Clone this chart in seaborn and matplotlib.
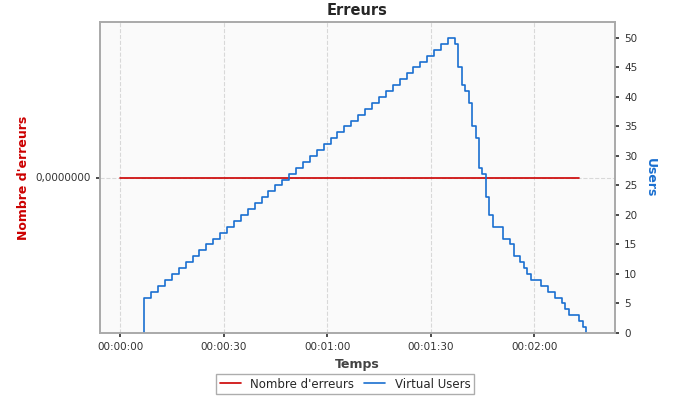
import matplotlib as mpl
mpl.use("Agg")
import matplotlib.pyplot as plt
import seaborn as sns
import pandas as pd

# elapsed seconds / virtual users (step changes)
USER_TIMES = [7, 7, 9, 11, 13, 15, 17, 19, 21, 23, 25, 27, 29, 31, 33, 35, 37, 39,
              41, 43, 45, 47, 49, 51, 53, 55, 57, 59, 61, 63, 65, 67, 69, 71, 73,
              75, 77, 79, 81, 83, 85, 87, 89, 91, 93, 95,
              97, 98, 99, 100, 101, 102, 103, 104, 105, 106, 107, 108, 111, 113,
              114, 116, 117, 118, 119, 122, 124, 126, 128, 129, 130, 133, 134, 135]
USER_VALUES = [0, 6, 7, 8, 9, 10, 11, 12, 13, 14, 15, 16, 17, 18, 19, 20, 21, 22,
               23, 24, 25, 26, 27, 28, 29, 30, 31, 32, 33, 34, 35, 36, 37, 38, 39,
               40, 41, 42, 43, 44, 45, 46, 47, 48, 49, 50,
               49, 45, 42, 41, 39, 35, 33, 28, 27, 23, 20, 18, 16, 15,
               13, 12, 11, 10, 9, 8, 7, 6, 5, 4, 3, 2, 1, 0]
ERROR_TIMES = [0, 133]
ERROR_VALUES = [0, 0]
TICK_SECONDS = [0, 30, 60, 90, 120]
TICK_LABELS = ["00:00:00", "00:00:30", "00:01:00", "00:01:30", "00:02:00"]

sns.set_theme(style="white")
plt.rcParams['font.family'] = ['DejaVu Sans']

fig = plt.figure(figsize=(6.9, 4.0), dpi=100)
ax = fig.add_axes([100 / 690, 1 - 333 / 400, 515 / 690, 311 / 400])
ax2 = ax.twinx()

err = pd.DataFrame({"t": ERROR_TIMES, "v": ERROR_VALUES})
users = pd.DataFrame({"t": USER_TIMES, "v": USER_VALUES})

sns.lineplot(data=err, x="t", y="v", ax=ax, color="#cc0000", lw=1.2,
             label="Nombre d'erreurs", legend=False)
sns.lineplot(data=users, x="t", y="v", ax=ax2, color="#1a6fd0", lw=1.2,
             estimator=None, sort=False, drawstyle="steps-post",
             label="Virtual Users", legend=False)

ax.set_facecolor("#fafafa")
ax.set_xlim(-5.8, 143.4)
ax.set_ylim(-1, 1)
ax.set_yticks([0])
ax.set_yticklabels(["0,0000000"])
ax2.set_ylim(0, 52.7)
ax2.set_yticks(range(0, 51, 5))
ax.set_xticks(TICK_SECONDS)
ax.set_xticklabels(TICK_LABELS)
ax.grid(True, color="#d8d8d8", ls="--", lw=0.8)
for a in (ax, ax2):
    a.tick_params(labelsize=7.5, colors="#333333", length=3)
    for s in a.spines.values():
        s.set_color("#aaaaaa")
ax.tick_params(axis="both", direction="out", bottom=True, left=True)
ax2.tick_params(axis="y", right=True)

ax.set_xlabel("Temps", fontsize=9, fontweight="bold", color="#444444")
ax.set_ylabel("Nombre d'erreurs", fontsize=9, fontweight="bold", color="#cc0000")
ax2.set_ylabel("Users", fontsize=9, fontweight="bold", color="#1a6fd0",
               rotation=270, labelpad=14)
ax.set_title("Erreurs", fontsize=10.5, fontweight="bold", pad=5)

h1, l1 = ax.get_legend_handles_labels()
h2, l2 = ax2.get_legend_handles_labels()
fig.legend(h1 + h2, l1 + l2, loc="lower center", bbox_to_anchor=(0.5, 0.0),
           ncol=2, fontsize=8.5, frameon=True, fancybox=False,
           edgecolor="#999999", handlelength=1.8, columnspacing=0.8,
           borderpad=0.3)

fig.savefig("out.png", dpi=100)
